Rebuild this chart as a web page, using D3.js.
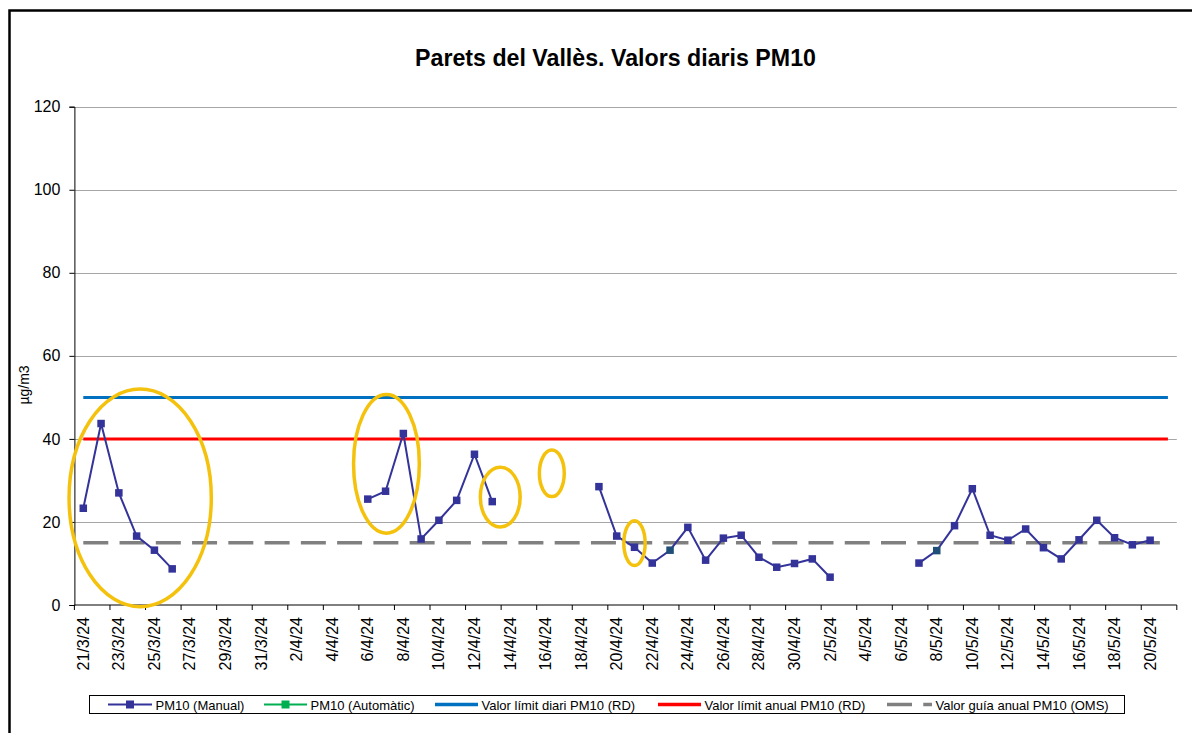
<!DOCTYPE html>
<html>
<head>
<meta charset="utf-8">
<script src="https://cdn.jsdelivr.net/npm/d3@7"></script>
<style>
  html, body { margin: 0; padding: 0; background: #fff; }
  svg { display: block; }
  text { font-family: Arial, "Liberation Sans", sans-serif; fill: #000; }
</style>
</head>
<body>
<div id="chart"></div>
<script>
// categories: one per day, 21/3/24 .. 21/5/24
var days = d3.timeDay.range(new Date(2024, 2, 21), new Date(2024, 4, 22));
var fmt = d3.timeFormat("%-d/%-m/%y");
var dates = days.map(fmt);

// PM10 manual, daily values (null = no sample)
var pm10Manual = [
  23.3, 43.7, 27.0, 16.6, 13.2, 8.7,
  null, null, null, null, null, null, null, null, null, null,
  25.5, 27.4, 41.3, 15.9, 20.4, 25.2, 36.3, 24.9,
  null, null, null, null, null,
  28.5, 16.6, 13.9, 10.1, 13.2, 18.7, 10.8, 16.1, 16.8, 11.5, 9.1, 10.0, 11.1, 6.7,
  null, null, null, null,
  10.1, 13.1, 19.1, 28.0, 16.8, 15.6, 18.3, 13.8, 11.1, 15.7, 20.4, 16.2, 14.5, 15.6,
  null
];
// days whose marker shows darker
var darkMarkerDates = ["23/4/24", "8/5/24"];

var limitDiari = 50;   // Valor límit diari PM10 (RD)
var limitAnual = 40;   // Valor límit anual PM10 (RD)
var guiaOMS = 15;      // Valor guía anual PM10 (OMS)

var yTicks = [0, 20, 40, 60, 80, 100, 120];

// hand drawn highlight ellipses: [category index, value, radius in days, radius in µg/m3]
var highlights = [
  [3.2, 25.8, 4.0, 26.2],
  [17.05, 34.0, 1.85, 16.7],
  [23.45, 26.0, 1.12, 7.2],
  [26.35, 31.7, 0.7, 5.6],
  [31.0, 14.9, 0.6, 5.4]
];

var legendItems = [
  {label: "PM10 (Manual)", color: "#333399", marker: true, x: 108, w: 44},
  {label: "PM10 (Automàtic)", color: "#00b050", marker: true, x: 264, w: 43},
  {label: "Valor límit diari PM10 (RD)", color: "#0070c0", marker: false, x: 435, w: 43},
  {label: "Valor límit anual PM10 (RD)", color: "#ff0000", marker: false, x: 658, w: 43},
  {label: "Valor guía anual PM10 (OMS)", color: "#808080", marker: false, dash: true, x: 887, w: 45}
];

var W = 1192, H = 733;
var svg = d3.select("#chart").append("svg")
    .attr("width", W)
    .attr("height", H);

// outer frame (left and top edges visible)
svg.append("path")
    .attr("d", "M9.5,740V10.5H1200")
    .attr("fill", "none")
    .attr("stroke", "#000")
    .attr("stroke-width", 2.5);

var x = d3.scaleBand().domain(dates).range([74.4, 1176.8]);
var y = d3.scaleLinear().domain([0, 120]).range([605, 106.7]);
var bw = x.bandwidth();
var cx = function(d) { return x(d) + bw / 2; };
var xi = d3.scaleLinear().domain([0, dates.length - 1]).range([cx(dates[0]), cx(dates[dates.length - 1])]);

// title
svg.append("text")
    .attr("x", 615.5)
    .attr("y", 66)
    .attr("text-anchor", "middle")
    .style("font-size", "23.2px")
    .style("font-weight", "bold")
    .text("Parets del Vallès. Valors diaris PM10");

// gridlines
svg.append("g").selectAll("line")
    .data(yTicks.filter(function(t) { return t > 0; }))
  .enter().append("line")
    .attr("x1", 74.4).attr("x2", 1176.8)
    .attr("y1", function(d) { return Math.round(y(d)) + 0.5; })
    .attr("y2", function(d) { return Math.round(y(d)) + 0.5; })
    .attr("stroke", "#a6a6a6")
    .attr("stroke-width", 1);

// y axis
var yAxis = svg.append("g")
    .attr("transform", "translate(74.4,0)")
    .call(d3.axisLeft(y).tickValues(yTicks).tickSize(5).tickPadding(9));
yAxis.selectAll("text").style("font-size", "16px");
yAxis.select(".domain").attr("stroke", "#000");

svg.append("text")
    .attr("transform", "translate(29,385) rotate(-90)")
    .attr("text-anchor", "middle")
    .style("font-size", "14px")
    .text("µg/m3");

// x axis
var tickDates = dates.filter(function(d, i) { return i % 2 === 0; });
var xg = svg.append("g").attr("transform", "translate(0,605)");
xg.append("line")
    .attr("x1", 74.4).attr("x2", 1176.8)
    .attr("stroke", "#000");
var bounds = d3.range(0, dates.length + 1, 2).map(function(i) { return 74.4 + i * bw; });
xg.selectAll("line.tick")
    .data(bounds)
  .enter().append("line")
    .attr("class", "tick")
    .attr("x1", function(d) { return d; }).attr("x2", function(d) { return d; })
    .attr("y1", 0).attr("y2", 5)
    .attr("stroke", "#000");
xg.selectAll("text")
    .data(tickDates)
  .enter().append("text")
    .attr("transform", function(d) { return "translate(" + (cx(d) + 5.5) + ",12) rotate(-90)"; })
    .attr("text-anchor", "end")
    .style("font-size", "16px")
    .text(function(d) { return d; });

// reference lines
function hline(v, color, width, dash) {
  var l = svg.append("line")
      .attr("x1", cx(dates[0])).attr("x2", cx(dates[dates.length - 1]))
      .attr("y1", y(v)).attr("y2", y(v))
      .attr("stroke", color)
      .attr("stroke-width", width);
  if (dash) l.attr("stroke-dasharray", dash);
}
hline(limitDiari, "#0070c0", 3);
hline(limitAnual, "#ff0000", 3);
hline(guiaOMS, "#808080", 3.5, "25,11.26");

// manual series
var pts = dates.map(function(d, i) { return {date: d, v: pm10Manual[i]}; });
var line = d3.line()
    .defined(function(d) { return d.v !== null; })
    .x(function(d) { return cx(d.date); })
    .y(function(d) { return y(d.v); });
svg.append("path")
    .datum(pts)
    .attr("d", line)
    .attr("fill", "none")
    .attr("stroke", "#333399")
    .attr("stroke-width", 2);
var ms = 7.5;
svg.append("g").selectAll("rect")
    .data(pts.filter(function(d) { return d.v !== null; }))
  .enter().append("rect")
    .attr("x", function(d) { return cx(d.date) - ms / 2; })
    .attr("y", function(d) { return y(d.v) - ms / 2; })
    .attr("width", ms).attr("height", ms)
    .attr("fill", function(d) { return darkMarkerDates.indexOf(d.date) >= 0 ? "#1f4e79" : "#333399"; });

// yellow highlights
svg.append("g").selectAll("ellipse")
    .data(highlights)
  .enter().append("ellipse")
    .attr("cx", function(d) { return xi(d[0]); })
    .attr("cy", function(d) { return y(d[1]); })
    .attr("rx", function(d) { return xi(d[2]) - xi(0); })
    .attr("ry", function(d) { return y(0) - y(d[3]); })
    .attr("fill", "none")
    .attr("stroke", "#f4c20d")
    .attr("stroke-width", 3.5);

// legend
var lg = svg.append("g");
lg.append("rect")
    .attr("x", 89.5).attr("y", 695.5)
    .attr("width", 1035).attr("height", 18)
    .attr("fill", "#fff")
    .attr("stroke", "#000")
    .attr("stroke-width", 1);
legendItems.forEach(function(it) {
  var ly = 704.5;
  var l = lg.append("line")
      .attr("x1", it.x).attr("x2", it.x + it.w)
      .attr("y1", ly).attr("y2", ly)
      .attr("stroke", it.color)
      .attr("stroke-width", it.marker ? 2 : 3.5);
  if (it.dash) l.attr("stroke-dasharray", "25,11.26");
  if (it.marker) {
    lg.append("rect")
        .attr("x", it.x + it.w / 2 - 4).attr("y", ly - 4)
        .attr("width", 8).attr("height", 8)
        .attr("fill", it.color);
  }
  lg.append("text")
      .attr("x", it.x + it.w + 3.5)
      .attr("y", ly + 5)
      .style("font-size", "13px")
      .text(it.label);
});
</script>
</body>
</html>
